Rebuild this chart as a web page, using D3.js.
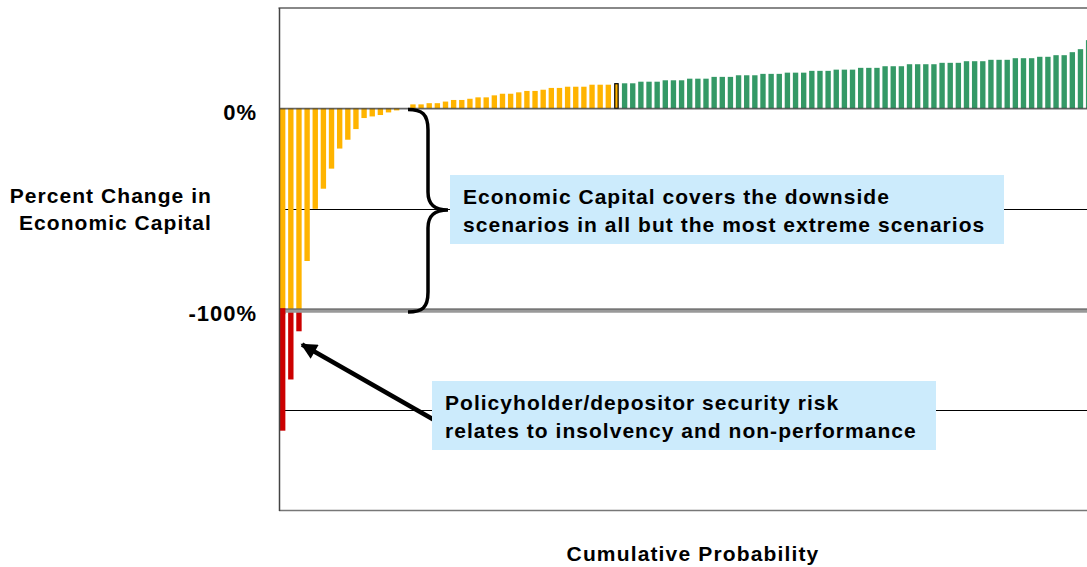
<!DOCTYPE html>
<html>
<head>
<meta charset="utf-8">
<script src="https://cdn.jsdelivr.net/npm/d3@7"></script>
<style>
  html, body { margin: 0; padding: 0; background: #fff; }
  svg { display: block; }
  text { font-family: "Liberation Sans", Arial, sans-serif; font-weight: bold; fill: #000; }
</style>
</head>
<body>
<svg id="chart" width="1087" height="567"></svg>
<script>
// ---- Data ----
// Percent change in economic capital for each scenario, sorted by cumulative probability
const scenarioValues = [
  -160.5, -135, -111, -76, -50, -40, -30, -20, -15.6, -10.3,
  -4.8, -4, -3.3, -2, -1, 0, 2, 2, 2.6, 2.6,
  3.4, 4.2, 4.2, 4.8, 5.5, 5.5, 6.5, 7.3, 7.3, 8,
  8.7, 8.7, 9.3, 10.2, 10.2, 10.8, 10.8, 10.8, 11.8, 11.8,
  11.8, 12.3, 12.5, 12.5, 13.3, 13.3, 13.3, 14, 14, 14,
  14.8, 14.8, 14.8, 15.7, 15.7, 15.7, 16.5, 16.5, 16.5, 17.2,
  17.2, 17.2, 17.8, 17.8, 17.8, 18.7, 18.7, 18.7, 19.3, 19.3,
  19.3, 20.2, 20.2, 20.2, 21, 21, 21, 22, 22, 22,
  22, 22.7, 22.7, 22.7, 23.5, 23.5, 23.5, 24.2, 24.2, 24.2,
  25, 25, 25, 25.7, 25.7, 26.5, 26.5, 28, 29.5, 34
];
const highlightedScenario = 42;            // bar with a black outline (1-based)
const greenFromScenario = 43;              // scenarios from here on are green
const insolvencyThreshold = -100;          // below this the bar turns red
const tickValues = [0, -100];
const tickLabels = ["0%", "-100%"];
const gridValues = [-50, -150];
const yDomain = [-200, 50];
const yTitleLines = ["Percent Change in", "Economic Capital"];
const xTitle = "Cumulative Probability";
const callout1Lines = ["Economic Capital covers the downside", "scenarios in all but the most extreme scenarios"];
const callout2Lines = ["Policyholder/depositor security risk", "relates to insolvency and non-performance"];

// ---- Layout ----
const svg = d3.select("#chart");
const plot = { left: 279, top: 8, bottom: 510, right: 1087 };
const COLORS = { yellow: "#FFB400", green: "#349966", red: "#CC0000", box: "#CCEBFC" };

const idx = scenarioValues.map((d, i) => i + 1);
const x = d3.scaleBand().domain(idx).range([280, 1091.3]).paddingInner(0.34).paddingOuter(0);
const y = d3.scaleLinear().domain(yDomain).range([plot.bottom, plot.top]);

// thin grid lines (-50%, -150%)
svg.append("g").selectAll("line").data(gridValues).join("line")
  .attr("x1", plot.left).attr("x2", plot.right)
  .attr("y1", d => Math.round(y(d)) + 0.5).attr("y2", d => Math.round(y(d)) + 0.5)
  .attr("stroke", "#000").attr("stroke-width", 1);

// bars
const data = scenarioValues.map((v, i) => ({ i: i + 1, v }));
const bars = svg.append("g");
bars.selectAll("rect.main").data(data.filter(d => d.i !== highlightedScenario)).join("rect")
  .attr("class", "main")
  .attr("x", d => x(d.i))
  .attr("width", x.bandwidth())
  .attr("y", d => d.v >= 0 ? y(d.v) : y(0))
  .attr("height", d => Math.abs(y(Math.max(d.v, insolvencyThreshold)) - y(0)))
  .attr("fill", d => d.i >= greenFromScenario ? COLORS.green : COLORS.yellow);
bars.selectAll("rect.red").data(data.filter(d => d.v < insolvencyThreshold)).join("rect")
  .attr("class", "red")
  .attr("x", d => x(d.i))
  .attr("width", x.bandwidth())
  .attr("y", y(insolvencyThreshold))
  .attr("height", d => y(d.v) - y(insolvencyThreshold))
  .attr("fill", COLORS.red);
bars.selectAll("rect.hl").data(data.filter(d => d.i === highlightedScenario)).join("rect")
  .attr("class", "hl")
  .attr("x", d => x(d.i) + 1)
  .attr("width", x.bandwidth() - 2)
  .attr("y", d => y(d.v))
  .attr("height", d => y(0) - y(d.v))
  .attr("fill", COLORS.yellow).attr("stroke", "#000").attr("stroke-width", 1.2);

// 0% line
svg.append("line")
  .attr("x1", plot.left).attr("x2", plot.right)
  .attr("y1", y(0) + 0.3).attr("y2", y(0) + 0.3)
  .attr("stroke", "#333").attr("stroke-opacity", 0.75).attr("stroke-width", 1.8);
// -100% line: thin dark + thick grey band
svg.append("line")
  .attr("x1", plot.left).attr("x2", plot.right)
  .attr("y1", y(insolvencyThreshold) + 1.5).attr("y2", y(insolvencyThreshold) + 1.5)
  .attr("stroke", "#999").attr("stroke-width", 4);
svg.append("line")
  .attr("x1", plot.left).attr("x2", plot.right)
  .attr("y1", y(insolvencyThreshold) - 0.2).attr("y2", y(insolvencyThreshold) - 0.2)
  .attr("stroke", "#555").attr("stroke-width", 1);
svg.append("rect")
  .attr("x", x(1)).attr("width", x.bandwidth())
  .attr("y", y(insolvencyThreshold) - 1).attr("height", 6)
  .attr("fill", COLORS.red);

// plot frame
svg.append("line").attr("x1", plot.left - 0.5).attr("x2", plot.right)
  .attr("y1", plot.top).attr("y2", plot.top).attr("stroke", "#888").attr("stroke-width", 2);
svg.append("line").attr("x1", plot.left).attr("x2", plot.right)
  .attr("y1", plot.bottom + 0.5).attr("y2", plot.bottom + 0.5).attr("stroke", "#777").attr("stroke-width", 1.5);
svg.append("line").attr("x1", plot.left + 0.5).attr("x2", plot.left + 0.5)
  .attr("y1", plot.top).attr("y2", plot.bottom + 1).attr("stroke", "#444").attr("stroke-width", 1.5);

// y axis tick labels
const yAxis = d3.axisLeft(y).tickValues(tickValues)
  .tickFormat((d, i) => tickLabels[i]).tickSize(0).tickPadding(22);
const yAxisG = svg.append("g").attr("transform", `translate(${plot.left},0)`).call(yAxis);
yAxisG.select(".domain").remove();
yAxisG.selectAll("text")
  .attr("dy", "0.72em").attr("y", -4.5)
  .style("font-family", '"Liberation Sans", Arial, sans-serif')
  .style("font-weight", "bold").style("font-size", "22px")
  .style("letter-spacing", "1px").attr("fill", "#000");

// y title
svg.append("text").attr("text-anchor", "end").style("font-size", "21px").style("letter-spacing", "1.05px")
  .selectAll("tspan").data(yTitleLines).join("tspan")
  .attr("x", 212).attr("y", (d, i) => 203 + i * 27).text(d => d);

// x title
svg.append("text").attr("text-anchor", "middle").style("font-size", "21px").style("letter-spacing", "1.15px")
  .attr("x", 693).attr("y", 561).text(xTitle);

// brace
svg.append("path")
  .attr("d", "M408,109.5 C422,109.5 428,114 428,130 L428,192 C428,204 434,210 448,210 C434,210 428,216 428,228 L428,292 C428,308 422,312 408,312")
  .attr("fill", "none").attr("stroke", "#000").attr("stroke-width", 3.5);

// arrow
const defs = svg.append("defs");
defs.append("marker").attr("id", "ah").attr("viewBox", "0 0 10 10")
  .attr("refX", 9).attr("refY", 5).attr("markerWidth", 4.2).attr("markerHeight", 3.6)
  .attr("markerUnits", "strokeWidth").attr("orient", "auto")
  .append("path").attr("d", "M0,0 L10,5 L0,10 Z").attr("fill", "#000");
svg.append("line")
  .attr("x1", 436).attr("y1", 421).attr("x2", 302).attr("y2", 344.5)
  .attr("stroke", "#000").attr("stroke-width", 4.5).attr("marker-end", "url(#ah)");

// callout boxes
function callout(x0, y0, w, h, lines, tx, ty) {
  svg.append("rect").attr("x", x0).attr("y", y0).attr("width", w).attr("height", h).attr("fill", COLORS.box);
  svg.append("text").style("font-size", "21px").style("letter-spacing", "1.03px")
    .selectAll("tspan").data(lines).join("tspan")
    .attr("x", tx).attr("y", (d, i) => ty + i * 28).text(d => d);
}
callout(450, 175, 554, 69, callout1Lines, 463, 204);
callout(432, 381, 504, 69, callout2Lines, 445, 410);
</script>
</body>
</html>
